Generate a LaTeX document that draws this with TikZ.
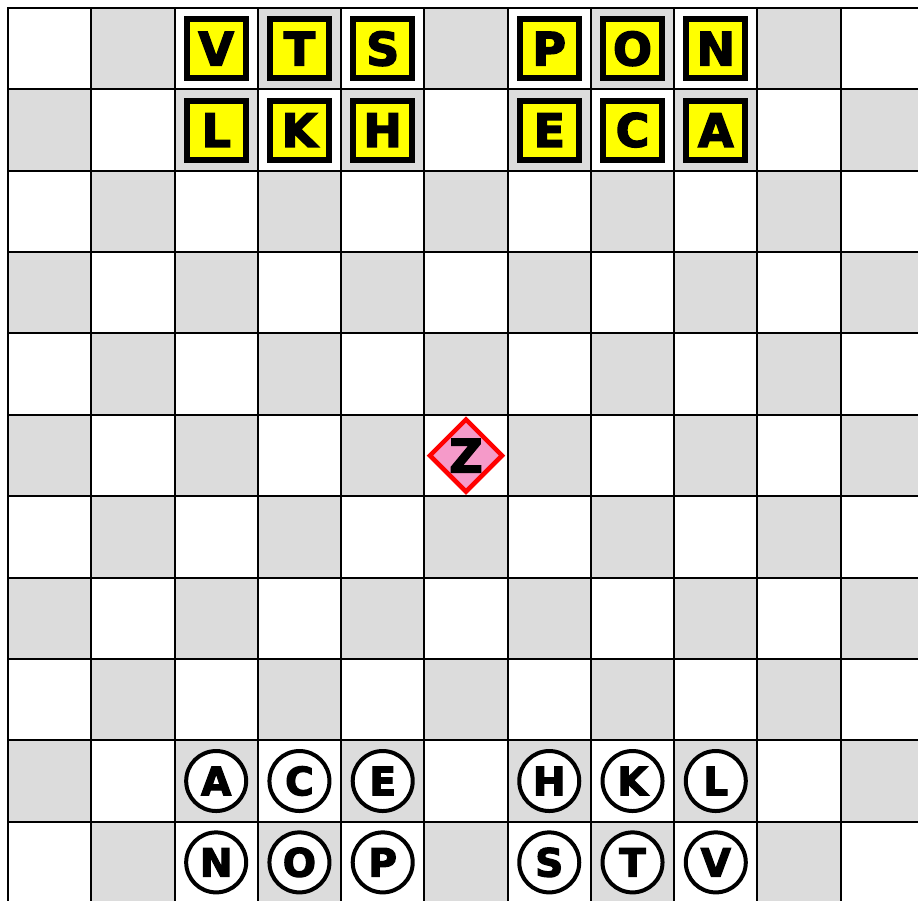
\documentclass[tikz,border=0pt]{standalone}
\usepackage{fontspec}
\usetikzlibrary{shapes.geometric}
\newfontfamily\piecefont{DejaVu Sans Bold}[FakeBold=3]
\definecolor{cellgray}{HTML}{DCDCDC}
\definecolor{pieceyellow}{HTML}{FFFF00}
\definecolor{zpink}{HTML}{F59AC9}
\definecolor{zred}{HTML}{FF0000}
\tikzset{
  gridline/.style={line width=2pt,black},
  ysq/.style={rectangle,draw=black,fill=pieceyellow,line width=6pt,minimum size=59pt,inner sep=0pt,font=\piecefont\fontsize{46}{46}\selectfont},
  wcirc/.style={circle,draw=black,fill=white,line width=4pt,minimum size=60pt,inner sep=0pt,font=\piecefont\fontsize{39}{39}\selectfont},
  zdiam/.style={diamond,aspect=1,draw=zred,fill=zpink,line width=4.5pt,minimum size=74pt,inner sep=0pt},
  zlet/.style={inner sep=0pt,font=\piecefont\fontsize{46}{46}\selectfont}
}
\begin{document}
\begin{tikzpicture}[x=1pt,y=-1pt]
\useasboundingbox (0,0) rectangle (918,900);
\clip (0,0) rectangle (918,900);
\fill[white] (0,0) rectangle (918,900);
\foreach \r in {0,...,10}{
  \foreach \c in {0,...,10}{
    \pgfmathtruncatemacro\parity{mod(\r+\c,2)}
    \ifnum\parity=1
      \fill[cellgray] ({8+\c*83.27},{8+\r*81.37}) rectangle +(83.27,81.37);
    \fi
  }
}
\foreach \i in {0,...,11}{
  \draw[gridline] ({8+\i*83.27},7) -- ({8+\i*83.27},910);
  \draw[gridline] (7,{8+\i*81.37}) -- (930,{8+\i*81.37});
}
\foreach \c/\r/\t in {2/0/V,3/0/T,4/0/S,6/0/P,7/0/O,8/0/N,2/1/L,3/1/K,4/1/H,6/1/E,7/1/C,8/1/A}{
  \node[ysq] (ysq-\t) at ({8+(\c+0.5)*83.27},{8+(\r+0.5)*81.37}) {\t};
}
\foreach \c/\r/\t in {2/9/A,3/9/C,4/9/E,6/9/H,7/9/K,8/9/L,2/10/N,3/10/O,4/10/P,6/10/S,7/10/T,8/10/V}{
  \node[wcirc] (cir-\t) at ({8+(\c+0.5)*83.27},{8+(\r+0.5)*81.37}) {\t};
}
\node[zdiam] (zd) at ({8+5.5*83.27},{8+5.5*81.37}) {};
\node[zlet] (z) at (zd.center) {Z};
\end{tikzpicture}
\end{document}
